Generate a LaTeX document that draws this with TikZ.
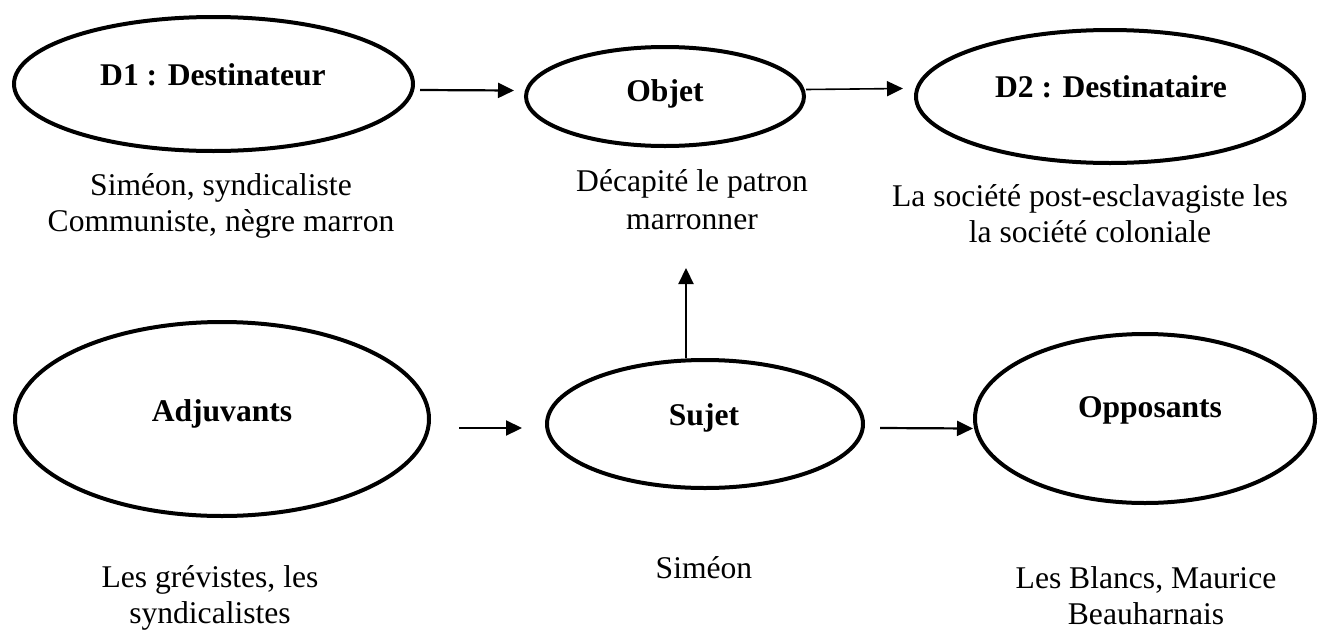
\documentclass[tikz,border=0pt]{standalone}
\usepackage{fontspec}
\setmainfont{Liberation Serif}
\usetikzlibrary{shapes.geometric,arrows.meta}
\begin{document}
\begin{tikzpicture}[x=0.5pt,y=-0.5pt,
  ell/.style={draw, ellipse, line width=2pt, inner sep=0pt},
  lab/.style={anchor=base, inner sep=0pt, font=\fontsize{15.8}{18}\selectfont\bfseries},
  txt/.style={anchor=base, inner sep=0pt, font=\fontsize{15.8}{18}\selectfont},
  arr/.style={line width=1.1pt, -{Triangle[length=8pt,width=7.5pt]}},
  thinarr/.style={line width=0.8pt, -{Triangle[length=8pt,width=7.5pt]}},
]
\useasboundingbox (0,0) rectangle (1318,632);
% ellipses
\node[ell, minimum width=199.5pt, minimum height=67pt] (d1) at (213.5,84) {};
\node[ell, minimum width=139pt, minimum height=49.5pt] (obj) at (665,96.5) {};
\node[ell, minimum width=194pt, minimum height=66.5pt] (d2) at (1110,96.5) {};
\node[ell, minimum width=207pt, minimum height=97pt] (adj) at (222,419) {};
\node[ell, minimum width=158pt, minimum height=64pt] (suj) at (705,424) {};
\node[ell, minimum width=170pt, minimum height=84.5pt] (opp) at (1145,418.5) {};
% labels
\node[lab] (d1l) at (213,85) {D1 : Destinateur};
\node[lab] (objl) at (665,101) {Objet};
\node[lab] (d2l) at (1111,97) {D2 : Destinataire};
\node[lab] (adjl) at (222,421) {Adjuvants};
\node[lab] (sujl) at (704,425) {Sujet};
\node[lab] (oppl) at (1150,417) {Opposants};
% texts
\node[txt] (t1a) at (221,195) {Siméon, syndicaliste};
\node[txt] (t1b) at (221,231) {Communiste, nègre marron};
\node[txt] (t2a) at (692,191) {Décapité le patron};
\node[txt] (t2b) at (692,229) {marronner};
\node[txt] (t3a) at (1090,206) {La société post-esclavagiste les};
\node[txt] (t3b) at (1090,242) {la société coloniale};
\node[txt] (t4a) at (210,587) {Les grévistes, les};
\node[txt] (t4b) at (210,623) {syndicalistes};
\node[txt] (t5) at (704,578) {Siméon};
\node[txt] (t6a) at (1146,588) {Les Blancs, Maurice};
\node[txt] (t6b) at (1146,624) {Beauharnais};
% connectors
\coordinate (tip) at (686,268);
\draw[arr] ([shift={(5,6)}]d1.east) -- ([shift={(-10,-6)}]obj.west);
\draw[thinarr] ([shift={(0,-7)}]obj.east) -- ([shift={(-11,-8)}]d2.west);
\draw[arr] (tip |- suj.north) -- (tip);
\draw[arr] ([shift={(28,9)}]adj.east) -- ([shift={(-23,4)}]suj.west);
\draw[arr] ([shift={(15,4)}]suj.east) -- ([shift={(0,10)}]opp.west);
\end{tikzpicture}
\end{document}
